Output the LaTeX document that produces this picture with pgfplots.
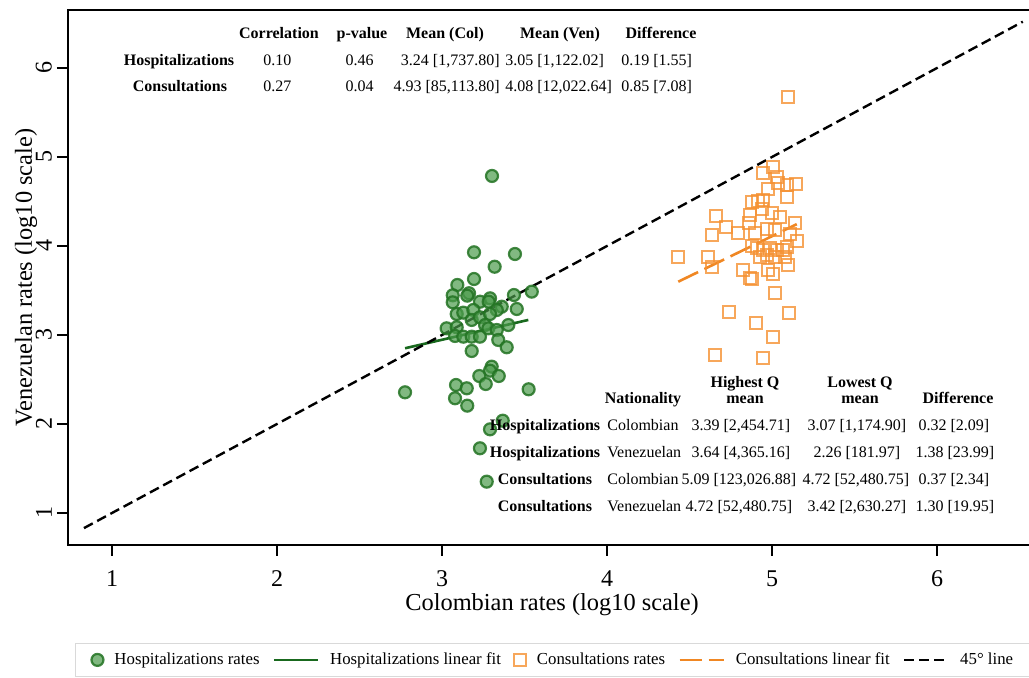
\documentclass[border=0pt]{standalone}
\usepackage{pgfplots}
\pgfplotsset{compat=1.18}
\usepackage{pgfplotstable}
\usepackage{fontspec}
\setmainfont{Liberation Serif}
\usetikzlibrary{calc}
\definecolor{hgreen}{RGB}{75,155,75}
\definecolor{hgreenedge}{RGB}{35,115,35}
\definecolor{hline}{RGB}{25,105,30}
\definecolor{corange}{RGB}{245,145,50}
\definecolor{cline}{RGB}{240,135,35}

\pgfplotstableread{
x y
3.303 4.787
3.194 3.929
3.442 3.910
3.319 3.767
3.194 3.629
3.093 3.562
3.065 3.446
3.065 3.367
3.164 3.469
3.153 3.442
3.436 3.449
3.544 3.487
3.230 3.374
3.291 3.412
3.283 3.374
3.362 3.318
3.332 3.281
3.453 3.292
3.089 3.236
3.129 3.251
3.190 3.281
3.180 3.169
3.230 3.199
3.291 3.236
3.028 3.075
3.089 3.087
3.079 2.989
3.129 2.981
3.180 2.981
3.230 2.981
3.261 3.112
3.281 3.075
3.332 3.056
3.402 3.112
3.341 2.944
3.392 2.862
3.180 2.820
3.301 2.644
3.291 2.599
3.226 2.539
3.344 2.539
3.265 2.449
3.085 2.438
3.150 2.401
2.776 2.356
3.525 2.390
3.079 2.289
3.153 2.206
3.368 2.037
3.291 1.940
3.230 1.727
3.271 1.352
}\hosp

\pgfplotstableread{
x y
5.099 5.678
5.004 4.884
4.947 4.824
5.032 4.772
5.038 4.704
5.089 4.685
5.145 4.693
4.978 4.637
5.089 4.547
4.877 4.498
4.917 4.509
4.947 4.517
4.938 4.412
4.661 4.337
4.867 4.348
4.998 4.374
5.048 4.329
4.721 4.217
4.862 4.255
4.968 4.188
5.018 4.180
5.139 4.255
5.109 4.135
4.796 4.143
4.635 4.124
4.897 4.143
5.150 4.060
4.877 4.000
4.907 3.974
4.947 3.955
4.988 3.974
5.028 3.955
5.068 3.955
5.089 3.985
4.927 3.880
4.968 3.899
5.018 3.880
5.079 3.873
4.432 3.873
4.614 3.880
4.635 3.761
4.822 3.730
4.867 3.637
4.877 3.626
4.978 3.730
5.008 3.685
5.099 3.787
5.018 3.469
4.739 3.262
5.105 3.244
4.901 3.131
5.008 2.981
4.655 2.775
4.947 2.738
}\cons

\pgfplotstableread{
x y
2.776 2.851
3.523 3.169
}\hospfit

\pgfplotstableread{
x y
4.432 3.599
5.150 4.245
}\consfit

\pgfplotstableread{
x y
0.83 0.83
6.52 6.52
}\diag

\pgfplotsset{
 linelegend/.style={legend image code/.code={\draw[##1] (0pt,0pt) -- (22pt,0pt);}},
 marklegend/.style={legend image code/.code={\draw[##1] plot coordinates {(0pt,0pt)};}},
}

\begin{document}
\begin{tikzpicture}
\begin{axis}[name=ax, scale only axis, width=484pt, height=267.5pt,
  xmin=0.7333, xmax=6.6, ymin=0.6404, ymax=6.6517,
  xtick={1,2,3,4,5,6}, ytick={1,2,3,4,5,6},
  xtick pos=bottom, ytick pos=left,
  tick align=outside, major tick length=5.5pt,
  axis line style={line width=0.9pt},
  every tick/.style={black, line width=0.9pt},
  /pgf/number format/assume math mode=true,
  ticklabel style={font=\fontsize{12}{14}\selectfont},
  yticklabel style={rotate=90, anchor=south},
  xticklabel shift=4pt,
  yticklabel shift=-1pt,
  xlabel={Colombian rates (log10 scale)},
  ylabel={Venezuelan rates (log10 scale)},
  label style={font=\fontsize{12.2}{14}\selectfont},
  xlabel style={at={(axis description cs:0.5,-0.1121)}, anchor=center},
  ylabel style={at={(axis description cs:-0.0434,0.5)}, anchor=center},
  legend columns=5,
  legend cell align=left,
  legend style={at={(axis description cs:0.0072,-0.1832)}, anchor=north west,
    font=\fontsize{8.4}{10}\selectfont, draw=black!15, line width=0.5pt,
    inner xsep=8pt, inner ysep=2.5pt,
    nodes={inner sep=2pt},
    /tikz/every odd column/.append style={column sep=3.5pt},
    /tikz/every even column/.append style={column sep=4.5pt}},
]
\addplot[only marks, mark=*, mark size=3pt, marklegend,
  mark options={draw=hgreenedge, fill=hgreen, fill opacity=0.7, draw opacity=0.85, line width=1.1pt}]
  table[x=x,y=y] {\hosp};
\addlegendentry{Hospitalizations rates}
\addplot[hline, line width=1.3pt, linelegend] table[x=x,y=y] {\hospfit};
\addlegendentry{Hospitalizations linear fit}
\addplot[only marks, mark=square, mark size=3pt, marklegend,
  mark options={draw=corange, line width=1pt, draw opacity=0.8}]
  table[x=x,y=y] {\cons};
\addlegendentry{Consultations rates}
\addplot[cline, line width=1.3pt, dash pattern=on 11pt off 3.5pt, linelegend] table[x=x,y=y] {\consfit};
\addlegendentry{Consultations linear fit}
\addplot[black, line width=1.2pt, dash pattern=on 5pt off 2.5pt, linelegend] table[x=x,y=y] {\diag};
\addlegendentry{45° line}
\end{axis}
\coordinate (img) at ($(ax.north west)+(-34pt,5pt)$);
\coordinate (imgbr) at ($(ax.south east)+(-3.5pt,-66.5pt)$);
\begin{scope}[shift={(img)}, x=0.5pt, y=-0.5pt, every node/.style={font=\fontsize{8}{9.6}\selectfont, inner sep=0pt}]
% top table
\node[anchor=mid] at (279,34) {\textbf{Correlation}};
\node[anchor=mid] at (362,34) {\textbf{p-value}};
\node[anchor=mid] at (445,34) {\textbf{Mean (Col)}};
\node[anchor=mid] at (560,34) {\textbf{Mean (Ven)}};
\node[anchor=mid] at (661,34) {\textbf{Difference}};
\node[anchor=mid] at (179,61) {\textbf{Hospitalizations}};
\node[anchor=mid west] at (263,61) {0.10};
\node[anchor=mid east] at (374,61) {0.46};
\node[anchor=mid east] at (500,61) {3.24 [1,737.80]};
\node[anchor=mid west] at (505,61) {3.05 [1,122.02]};
\node[anchor=mid west] at (621,61) {0.19 [1.55]};
\node[anchor=mid] at (180,87) {\textbf{Consultations}};
\node[anchor=mid west] at (263,87) {0.27};
\node[anchor=mid east] at (374,87) {0.04};
\node[anchor=mid east] at (500,87) {4.93 [85,113.80]};
\node[anchor=mid west] at (505,87) {4.08 [12,022.64]};
\node[anchor=mid west] at (621,87) {0.85 [7.08]};
% bottom table
\node[anchor=mid] at (745,383) {\textbf{Highest Q}};
\node[anchor=mid] at (745,399) {\textbf{mean}};
\node[anchor=mid] at (860,383) {\textbf{Lowest Q}};
\node[anchor=mid] at (860,399) {\textbf{mean}};
\node[anchor=mid] at (643,399) {\textbf{Nationality}};
\node[anchor=mid] at (958,399) {\textbf{Difference}};
\node[anchor=mid] at (545,426) {\textbf{Hospitalizations}};
\node[anchor=mid west] at (607,426) {Colombian};
\node[anchor=mid] at (741,426) {3.39 [2,454.71]};
\node[anchor=mid] at (857,426) {3.07 [1,174.90]};
\node[anchor=mid] at (954,426) {0.32 [2.09]};
\node[anchor=mid] at (545,453) {\textbf{Hospitalizations}};
\node[anchor=mid west] at (607,453) {Venezuelan};
\node[anchor=mid] at (741,453) {3.64 [4,365.16]};
\node[anchor=mid] at (857,453) {2.26 [181.97]};
\node[anchor=mid] at (955,453) {1.38 [23.99]};
\node[anchor=mid] at (545,480) {\textbf{Consultations}};
\node[anchor=mid west] at (607,480) {Colombian};
\node[anchor=mid] at (739,480) {5.09 [123,026.88]};
\node[anchor=mid] at (856,480) {4.72 [52,480.75]};
\node[anchor=mid] at (954,480) {0.37 [2.34]};
\node[anchor=mid] at (545,507) {\textbf{Consultations}};
\node[anchor=mid west] at (607,507) {Venezuelan};
\node[anchor=mid] at (739,507) {4.72 [52,480.75]};
\node[anchor=mid] at (857,507) {3.42 [2,630.27]};
\node[anchor=mid] at (955,507) {1.30 [19.95]};
\end{scope}
\pgfresetboundingbox
\useasboundingbox (img) rectangle (imgbr);
\end{tikzpicture}
\end{document}
